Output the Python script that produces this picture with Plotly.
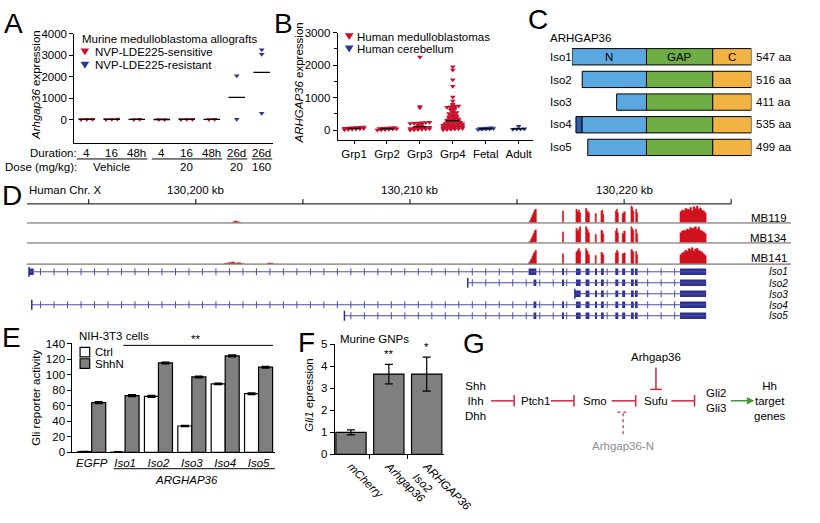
import numpy as np
import plotly.graph_objects as go

W, H = 820, 523
FONT = "Liberation Sans, Arial, sans-serif"
FS = 11.5
RED = "#c8102e"
NAVY = "#2b3990"
INH = "#d2283f"

# ---------------- panel A : murine allografts
a_duration = ["4", "16", "48h", "4", "16", "48h", "26d", "26d"]
a_dose_labels = ["Vehicle", "20", "20", "160"]
a_dose_span = [(0, 2), (3, 5), (6, 6), (7, 7)]
a_sensitive = [[12, 25, 18], [20, 8, 30], [10, 22], [15, 6], [25, 12, 20], [10, 16], [], []]
a_resistant = [[], [], [], [], [], [], [2050, 20], [3250, 3050, 300]]

# ---------------- panel B : human samples
b_groups = ["Grp1", "Grp2", "Grp3", "Grp4", "Fetal", "Adult"]
b_grp1 = [8, 15, 24, 32, 40, 47, 55, 62, 70, 78, 86, 94]
b_grp2 = [5, 12, 20, 28, 36, 44, 52, 60, 68, 76, 84]
b_grp3 = [2250, 730, 690, 242, 234, 226, 218, 210, 200, 185, 160, 135, 110,
          92, 80, 68, 60, 55, 52, 44, 36, 28, 20, 12, 5]
b_grp4 = [1950, 1850, 1550, 1350, 1020, 900, 800, 760,
          745, 735, 720, 705, 690, 660, 640, 610, 575, 545, 530, 510,
          480, 460, 445, 425, 410, 390, 370, 355, 345, 335, 320, 305,
          292, 280, 268, 255, 245, 235, 225, 215, 205,
          194, 185, 176, 168, 160, 152, 144, 136, 128, 120, 112, 105,
          93, 85, 78, 70, 62, 55, 46, 40, 32, 25, 18, 10]
b_fetal = [22, 28, 34, 40, 46, 52, 58, 64, 70]
b_adult = [120, 45, 38, 32, 26]
b_values = [b_grp1, b_grp2, b_grp3, b_grp4, b_fetal, b_adult]
b_tumour = [True, True, True, True, False, False]

# ---------------- panel C : isoform domains (Iso1 numbering, aligned at C-terminus)
c_isoforms = ["Iso1", "Iso2", "Iso3", "Iso4", "Iso5"]
c_length = [547, 516, 411, 535, 499]
c_extra = [0, 0, 0, 18, 0]
c_gap_start = 227
c_c_start = 429
c_full = 547

# ---------------- panel D : genome browser
d_exon_start = [130215.54, 130217.12, 130217.75, 130218.20, 130218.65, 130218.92,
                130219.59, 130219.91, 130220.32, 130220.54, 130222.61]
d_exon_end = [130215.90, 130217.17, 130217.97, 130218.38, 130218.70, 130219.05,
              130219.73, 130220.05, 130220.45, 130220.63, 130223.83]
d_tracks = ["MB119", "MB134", "MB141"]
d_cov = [
    [[5, 15, 30, 45, 60, 75, 80], [70], [80, 65, 75, 60], [85, 70, 60], [55], [70, 75, 50],
     [70, 80, 60], [55, 65], [100, 90, 70], [80, 60],
     [65, 75, 70, 85, 80, 78, 90, 72, 95, 85, 100, 80, 88, 75, 70, 60]],
    [[5, 12, 25, 40, 55, 70, 78], [65], [85, 70, 80, 95], [95, 80, 60], [50], [75, 70, 55],
     [70, 85, 60], [55, 70], [95, 85, 75], [80, 55],
     [60, 70, 75, 72, 82, 78, 90, 85, 88, 95, 80, 92, 75, 70, 65, 55]],
    [[8, 18, 30, 45, 60, 70, 80], [60], [70, 80, 90, 75], [90, 75, 55], [50], [70, 65, 55],
     [65, 80, 70], [60, 65], [85, 80, 70], [75, 55],
     [55, 65, 70, 80, 75, 90, 85, 95, 78, 88, 92, 80, 75, 70, 60, 50]],
]
d_blip_start = [[130201.70], [], [130201.35, 130203.35]]
d_blip_end = [[130202.10], [], [130202.25, 130203.60]]
d_blip_h = [[[6, 12, 8, 5]], [], [[5, 8, 12, 6, 8, 4], [6]]]
d_iso_start = [130192.21, 130212.70, 130217.70, 130192.34, 130206.94]
d_iso_end = 130223.83
d_iso_own = [[(130192.21, 130192.43), (130215.54, 130215.90)],
             [(130215.77, 130215.90)],
             [(130217.70, 130217.97)],
             [(130215.77, 130215.90)],
             [(130215.77, 130215.90)]]
d_iso_shared_from = [1, 1, 3, 1, 1]
d_ruler_ticks = [130195, 130200, 130205, 130210, 130215, 130220, 130225]
d_ruler_labels = {130200: "130,200 kb", 130210: "130,210 kb", 130220: "130,220 kb"}

# ---------------- panel E : Gli reporter
e_labels = ["EGFP", "Iso1", "Iso2", "Iso3", "Iso4", "Iso5"]
e_ctrl = [1, 0.5, 72, 34, 88, 75.5]
e_ctrl_err = [0.4, 0.3, 1.2, 0.8, 0.8, 1.0]
e_shhn = [64, 73, 115, 97, 124, 109.5]
e_shhn_err = [1.0, 1.0, 1.0, 1.0, 1.2, 1.0]

# ---------------- panel F : GNPs
f_labels = ["<i>mCherry</i>", "<i>Arhgap36</i>", "<i>ARHGAP36<br>Iso2</i>"]
f_values = [1.0, 3.65, 3.65]
f_err = [0.11, 0.44, 0.77]
f_stars = ["", "**", "*"]


def X(p):
    return p / W


def Y(p):
    return 1 - p / H


def dom_x(l, r):
    return [l / W, r / W]


def dom_y(t, b):
    return [1 - b / H, 1 - t / H]


def txt(x, y, s, size=FS, xa="center", color="black", angle=0, ya="middle"):
    return dict(x=X(x), y=Y(y), xref="paper", yref="paper", text=s, showarrow=False,
                xanchor=xa, yanchor=ya, textangle=angle,
                font=dict(size=size, color=color, family=FONT))


def swarm(values, centre, unit_px, bin_px, step):
    rows = {}
    for v in sorted(values):
        rows.setdefault(int(np.floor(v * unit_px / bin_px)), []).append(v)
    xs, ys = [], []
    for row in rows.values():
        n = len(row)
        for j, v in enumerate(row):
            xs.append(centre + (j - (n - 1) / 2) * step)
            ys.append(v)
    return xs, ys


def hidden(**kw):
    d = dict(showgrid=False, zeroline=False, showline=False, ticks="", showticklabels=False,
             fixedrange=True)
    d.update(kw)
    return d


def shown(**kw):
    d = dict(showgrid=False, zeroline=False, showline=True, linecolor="black", linewidth=1,
             ticks="outside", ticklen=4, tickcolor="black", tickwidth=1,
             tickfont=dict(size=FS, color="black", family=FONT), fixedrange=True)
    d.update(kw)
    return d


fig = go.Figure()
ann = []
shapes = []

# ======== A
for groups, colour in ((a_sensitive, RED), (a_resistant, NAVY)):
    xs, ys = [], []
    for i, vals in enumerate(groups):
        gx, gy = swarm(vals, i, 0.0225, 2.0, 0.23)
        xs += gx
        ys += gy
    fig.add_trace(go.Scatter(x=xs, y=ys, mode="markers", xaxis="x", yaxis="y",
                             marker=dict(symbol="triangle-down", size=5, color=colour)))
mx, my = [], []
for i in range(len(a_duration)):
    m = float(np.mean(a_sensitive[i] + a_resistant[i]))
    mx += [i - 0.33, i + 0.33, None]
    my += [m, m, None]
fig.add_trace(go.Scatter(x=mx, y=my, mode="lines", xaxis="x", yaxis="y",
                         line=dict(color="black", width=1.3)))

ann.append(txt(2, 18, "A", size=28, xa="left"))
ann.append(txt(38, 83, "<i>Arhgap36</i> expression", angle=-90))
ann.append(txt(83, 34, "Murine medulloblastoma allografts", xa="left"))
ann.append(txt(96, 48, "NVP-LDE225-sensitive", xa="left"))
ann.append(txt(96, 62, "NVP-LDE225-resistant", xa="left"))
ann.append(txt(82, 154, "Duration:", xa="right"))
ann.append(txt(82, 168, "Dose (mg/kg):", xa="right"))
for i, lab in enumerate(a_duration):
    ann.append(dict(x=i, y=Y(154), xref="x", yref="paper", text=lab, showarrow=False,
                    yanchor="middle", font=dict(size=FS, family=FONT, color="black")))
for lab, (s, e) in zip(a_dose_labels, a_dose_span):
    ann.append(dict(x=(s + e) / 2, y=Y(168), xref="x", yref="paper", text=lab, showarrow=False,
                    yanchor="middle", font=dict(size=FS, family=FONT, color="black")))
    shapes.append(dict(type="line", xref="x", yref="paper", x0=s - 0.4, x1=e + 0.42,
                       y0=Y(160), y1=Y(160), line=dict(color="black", width=1)))

# ======== B
for i, vals in enumerate(b_values):
    gx, gy = swarm(vals, i, 0.034, 1.7, 0.117)
    fig.add_trace(go.Scatter(x=gx, y=gy, mode="markers", xaxis="x2", yaxis="y2",
                             marker=dict(symbol="triangle-down", size=5,
                                         color=RED if b_tumour[i] else NAVY)))
mx, my = [], []
for i, vals in enumerate(b_values):
    m = float(np.median(vals))
    mx += [i - 0.2, i + 0.2, None]
    my += [m, m, None]
fig.add_trace(go.Scatter(x=mx, y=my, mode="lines", xaxis="x2", yaxis="y2",
                         line=dict(color="black", width=1.3)))
ann.append(txt(282, 18, "B", size=28, xa="left"))
ann.append(txt(310, 81, "<i>ARHGAP36</i> expression", angle=-90))
ann.append(txt(368, 32, "Human medulloblastomas", xa="left"))
ann.append(txt(368, 45, "Human cerebellum", xa="left"))


def tri(cx, cy, colour, r=4.5):
    return dict(type="path", xref="paper", yref="paper",
                path=f"M{X(cx - r)},{Y(cy - r * 0.8)} L{X(cx + r)},{Y(cy - r * 0.8)} "
                     f"L{X(cx)},{Y(cy + r * 0.8)} Z",
                fillcolor=colour, line=dict(width=0))


shapes += [tri(88, 48, RED), tri(88, 62, NAVY), tri(362, 32, RED), tri(362, 45, NAVY)]

# ======== C
c_start = [c_full - n for n in c_length]
n_base = [s + e for s, e in zip(c_start, c_extra)]
rows = list(range(len(c_isoforms)))
bar_line = dict(color="black", width=1)
fig.add_trace(go.Bar(y=rows, x=[c_gap_start - b for b in n_base], base=n_base, orientation="h",
                     width=0.72, marker=dict(color="#5ba8e0", line=bar_line),
                     xaxis="x3", yaxis="y3"))
fig.add_trace(go.Bar(y=rows, x=[c_c_start - c_gap_start] * 5, base=[c_gap_start] * 5,
                     orientation="h", width=0.72, marker=dict(color="#6fad45", line=bar_line),
                     xaxis="x3", yaxis="y3"))
fig.add_trace(go.Bar(y=rows, x=[c_full - c_c_start] * 5, base=[c_c_start] * 5,
                     orientation="h", width=0.72, marker=dict(color="#f1b443", line=bar_line),
                     xaxis="x3", yaxis="y3"))
ex_rows = [r for r in rows if c_extra[r] > 0]
fig.add_trace(go.Bar(y=ex_rows, x=[c_extra[r] for r in ex_rows], base=[c_start[r] for r in ex_rows],
                     orientation="h", width=0.72, marker=dict(color="#2e5ea8", line=bar_line),
                     xaxis="x3", yaxis="y3"))
for lab, pos in (("N", c_gap_start / 2), ("GAP", (c_gap_start + c_c_start) / 2),
                 ("C", (c_c_start + c_full) / 2)):
    ann.append(dict(x=pos, y=0, xref="x3", yref="y3", text=lab, showarrow=False,
                    yanchor="middle", font=dict(size=FS, family=FONT, color="black")))
ann.append(txt(545, 14, "C", size=28, xa="left"))
ann.append(txt(568, 33, "ARHGAP36", xa="left"))
c_row_px = [53, 77, 100, 123, 148]
for name, n, ypx in zip(c_isoforms, c_length, c_row_px):
    ann.append(txt(568, ypx, name, xa="left"))
    ann.append(txt(782, ypx, f"{n} aa", xa="left"))

# ======== D
kb_px = 22.2
kb_left = 130200 + (28 - 203) / kb_px
kb_right = 130200 + (820 - 203) / kb_px


def coverage_xy(starts, ends, heights):
    order = np.argsort(starts)
    xs, ys = [kb_left], [0]
    for k in order:
        s, e, h = starts[k], ends[k], heights[k]
        step = (e - s) / len(h)
        for j, v in enumerate(h):
            xs.append(s + j * step)
            ys.append(v)
        xs.append(e)
        ys.append(0)
    xs.append(kb_right)
    ys.append(0)
    return xs, ys


for t, yname in enumerate(["y4", "y5", "y6"]):
    cx, cy = coverage_xy(d_exon_start + d_blip_start[t], d_exon_end + d_blip_end[t],
                         d_cov[t] + d_blip_h[t])
    fig.add_trace(go.Scatter(x=cx, y=cy, mode="lines", line_shape="hv", fill="tozeroy",
                             fillcolor="#d0121e", line=dict(color="#d0121e", width=0.6),
                             xaxis="x4", yaxis=yname))

ix, iy, sx, sy = [], [], [], []
eb, ew, er = [], [], []
tick_x, tick_y = [], []
grid = np.arange(130192.21 + 0.54, d_iso_end, 0.63)
for r in range(5):
    ix += [d_iso_start[r], d_iso_end, None]
    iy += [r, r, None]
    sx.append(d_iso_start[r])
    sy.append(r)
    exons = d_iso_own[r] + list(zip(d_exon_start[d_iso_shared_from[r]:],
                                    d_exon_end[d_iso_shared_from[r]:]))
    for s, e in exons:
        eb.append(s)
        ew.append(e - s)
        er.append(r)
    for g in grid:
        if g <= d_iso_start[r] + 0.1:
            continue
        if any(s - 0.12 < g < e + 0.12 for s, e in exons):
            continue
        tick_x.append(g)
        tick_y.append(r)
fig.add_trace(go.Scatter(x=ix, y=iy, mode="lines", line=dict(color="#4b50a6", width=1),
                         xaxis="x4", yaxis="y7"))
fig.add_trace(go.Scatter(x=tick_x, y=tick_y, mode="markers", xaxis="x4", yaxis="y7",
                         marker=dict(symbol="line-ns", size=5, line=dict(color="#4b50a6", width=1))))
fig.add_trace(go.Scatter(x=sx, y=sy, mode="markers", xaxis="x4", yaxis="y7",
                         marker=dict(symbol="line-ns", size=7, line=dict(color="#2e3192", width=1.5))))
fig.add_trace(go.Bar(y=er, x=ew, base=eb, orientation="h", width=0.6, xaxis="x4", yaxis="y7",
                     marker=dict(color="#2e3192", line=dict(width=0))))

ann.append(txt(0, 198, "D", size=28, xa="left"))
ann.append(txt(28, 192, "Human Chr. X", xa="left"))
shapes.append(dict(type="line", xref="x4", yref="paper", x0=kb_left, x1=d_ruler_ticks[-1],
                   y0=Y(207), y1=Y(207), line=dict(color="black", width=1)))
for t in d_ruler_ticks:
    shapes.append(dict(type="line", xref="x4", yref="paper", x0=t, x1=t, y0=Y(207), y1=Y(202),
                       line=dict(color="black", width=1)))
    if t in d_ruler_labels:
        ann.append(dict(x=t, y=Y(192), xref="x4", yref="paper", text=d_ruler_labels[t],
                        showarrow=False, yanchor="middle",
                        font=dict(size=FS, family=FONT, color="black")))
for ypx in (227, 248, 270):
    shapes.append(dict(type="line", xref="paper", yref="paper", x0=X(28), x1=X(820),
                       y0=Y(ypx), y1=Y(ypx), line=dict(color="#9a9a9a", width=1.5)))
for name, ypx in zip(d_tracks, (222, 243, 264)):
    ann.append(txt(818, ypx, name, xa="right"))
for name, ypx in zip(c_isoforms, (278, 290, 302, 313, 324)):
    a = txt(818, ypx, f"<i>{name}</i>", size=10, xa="right")
    a["borderpad"] = 0
    ann.append(a)

# ======== E
ex = list(range(len(e_labels)))
fig.add_trace(go.Bar(x=ex, y=e_ctrl, width=0.42, offset=-0.42, xaxis="x5", yaxis="y8",
                     marker=dict(color="white", line=dict(color="black", width=1.2)),
                     error_y=dict(type="data", array=e_ctrl_err, color="black", thickness=1.5,
                                  width=4)))
fig.add_trace(go.Bar(x=ex, y=e_shhn, width=0.42, offset=0, xaxis="x5", yaxis="y8",
                     marker=dict(color="#7f7f7f", line=dict(color="black", width=1.2)),
                     error_y=dict(type="data", array=e_shhn_err, color="black", thickness=1.5,
                                  width=4)))
ann.append(txt(0, 347, "E", size=28, xa="left"))
ann.append(txt(37, 410, "Gli reporter activity", angle=-90))
ann.append(txt(80, 345, "NIH-3T3 cells", xa="left"))
ann.append(txt(96, 362, "Ctrl", xa="left"))
ann.append(txt(96, 374, "ShhN", xa="left"))
shapes.append(dict(type="rect", xref="paper", yref="paper", x0=X(83), x1=X(93), y0=Y(357),
                   y1=Y(367), fillcolor="white", line=dict(color="black", width=1.2)))
shapes.append(dict(type="rect", xref="paper", yref="paper", x0=X(83), x1=X(93), y0=Y(369),
                   y1=Y(379), fillcolor="#7f7f7f", line=dict(color="black", width=1.2)))
shapes.append(dict(type="line", xref="x5", yref="paper", x0=0.95, x1=5.43, y0=Y(355), y1=Y(355),
                   line=dict(color="black", width=1)))
ann.append(dict(x=3.1, y=Y(348), xref="x5", yref="paper", text="**", showarrow=False,
                yanchor="middle", font=dict(size=FS, family=FONT, color="black")))
shapes.append(dict(type="line", xref="x5", yref="paper", x0=0.66, x1=5.55, y0=Y(484), y1=Y(484),
                   line=dict(color="black", width=1)))
ann.append(txt(193, 496, "<i>ARGHAP36</i>"))

# ======== F
fig.add_trace(go.Bar(x=f_labels, y=f_values, width=0.8, xaxis="x6", yaxis="y9",
                     marker=dict(color="#7f7f7f", line=dict(color="black", width=1.2)),
                     error_y=dict(type="data", array=f_err, color="black", thickness=1.2, width=4)))
for i, s in enumerate(f_stars):
    if s:
        ann.append(dict(x=i, y=f_values[i] + f_err[i], xref="x6", yref="y9", text=s,
                        showarrow=False, yanchor="bottom", yshift=2,
                        font=dict(size=FS, family=FONT, color="black")))
ann.append(txt(307, 352, "F", size=28, xa="left"))
ann.append(txt(320, 407, "<i>Gli1</i> epression", angle=-90))
ann.append(txt(350, 348, "Murine GNPs", xa="left"))

# ======== G (pathway diagram)
ann.append(txt(478, 353, "G", size=28, xa="left"))
g_nodes = [("Shh<br>Ihh<br>Dhh", 493, 413, "black"), ("Ptch1", 555, 413, "black"),
           ("Smo", 617, 413, "black"), ("Sufu", 680, 413, "black"),
           ("Gli2<br>Gli3", 742, 413, "black"), ("Hh<br>target<br>genes", 798, 413, "black"),
           ("Arhgap36", 680, 367, "black"), ("Arhgap36-N", 646, 460, "#8c8c8c")]
for s, x, y, c in g_nodes:
    ann.append(txt(x, y, s, color=c))
g_inhibit_h = [(509, 533, 413), (571, 595, 413), (634, 659, 413), (696, 720, 413)]
for x0, x1, y in g_inhibit_h:
    shapes.append(dict(type="line", xref="paper", yref="paper", x0=X(x0), x1=X(x1), y0=Y(y),
                       y1=Y(y), line=dict(color=INH, width=1.5)))
    shapes.append(dict(type="line", xref="paper", yref="paper", x0=X(x1), x1=X(x1), y0=Y(y - 6),
                       y1=Y(y + 6), line=dict(color=INH, width=1.5)))
shapes.append(dict(type="line", xref="paper", yref="paper", x0=X(680), x1=X(680), y0=Y(378),
                   y1=Y(401), line=dict(color=INH, width=1.5)))
shapes.append(dict(type="line", xref="paper", yref="paper", x0=X(674), x1=X(686), y0=Y(401),
                   y1=Y(401), line=dict(color=INH, width=1.5)))
shapes.append(dict(type="line", xref="paper", yref="paper", x0=X(646), x1=X(646), y0=Y(448),
                   y1=Y(425), line=dict(color="#d0566a", width=1.5, dash="dot")))
shapes.append(dict(type="line", xref="paper", yref="paper", x0=X(640), x1=X(652), y0=Y(425),
                   y1=Y(425), line=dict(color="#d0566a", width=1.5, dash="dot")))
ann.append(dict(x=X(782), y=Y(413), xref="paper", yref="paper", ax=-25, ay=0, text="",
                showarrow=True, arrowhead=2, arrowsize=1, arrowwidth=1.5, arrowcolor="#3f9a3a"))

fig.update_layout(
    width=W, height=H, margin=dict(l=0, r=0, t=0, b=0), showlegend=False,
    paper_bgcolor="white", plot_bgcolor="white", barmode="overlay",
    font=dict(family=FONT, size=FS, color="black"),
    xaxis=shown(domain=dom_x(77, 283), range=[-0.5, 7.45], ticks="", showticklabels=False, anchor="y"),
    yaxis=shown(domain=dom_y(29, 143), range=[-1070, 4000], tickvals=[0, 1000, 2000, 3000, 4000],
                anchor="x"),
    xaxis2=shown(domain=dom_x(350, 553), range=[-0.5, 5.45], tickvals=list(range(6)),
                 ticktext=b_groups, ticklen=3, anchor="y2"),
    yaxis2=shown(domain=dom_y(28, 140), range=[-300, 3000], tickvals=[0, 1000, 2000, 3000],
                 minor=dict(dtick=500, ticklen=3, ticks="outside", tickcolor="black", showgrid=False),
                 anchor="x2"),
    xaxis3=hidden(domain=dom_x(593, 779), range=[0, c_full], anchor="y3"),
    yaxis3=hidden(domain=dom_y(41.25, 159.75), range=[4.5, -0.5], anchor="x3"),
    xaxis4=hidden(domain=dom_x(28, 820), range=[kb_left, kb_right], anchor="y4"),
    yaxis4=hidden(domain=dom_y(209, 227), range=[0, 100], anchor="x4"),
    yaxis5=hidden(domain=dom_y(230, 248), range=[0, 100], anchor="x4"),
    yaxis6=hidden(domain=dom_y(252, 270), range=[0, 100], anchor="x4"),
    yaxis7=hidden(domain=dom_y(272.25, 329.75), range=[4.5, -0.5], anchor="x4"),
    xaxis5=shown(domain=dom_x(75, 285), range=[-0.58, 5.49], tickvals=ex,
                 ticktext=[f"<i>{s}</i>" for s in e_labels], ticks="", anchor="y8"),
    yaxis8=shown(domain=dom_y(353, 467), range=[0, 140], dtick=20, anchor="x5"),
    xaxis6=shown(domain=dom_x(347, 460), type="category", range=[-0.43, 2.45],
                 tickson="boundaries", tickangle=45, anchor="y9"),
    yaxis9=shown(domain=dom_y(354, 469), range=[0, 5], dtick=1, anchor="x6"),
    annotations=ann, shapes=shapes,
)

# the page body keeps an 8 px default margin; drop it so the figure fills the window
fig.write_html("out.html", config={"displayModeBar": False},
               post_script="document.body.style.margin='0';document.body.style.overflow='hidden';")
